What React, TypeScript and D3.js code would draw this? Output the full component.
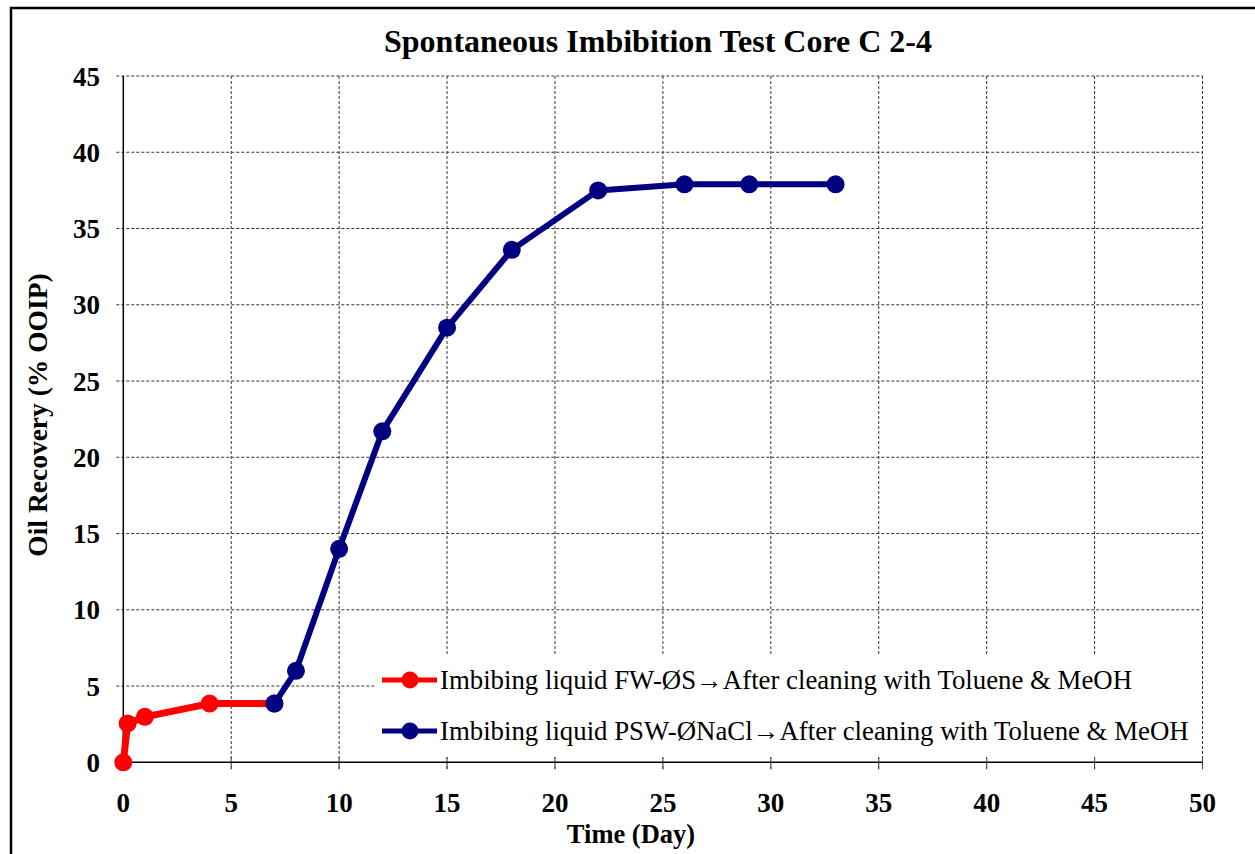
import React from "react";
import * as d3 from "d3";

const redX = [0, 0.2, 1, 4, 7];
const redY = [0, 2.55, 2.98, 3.85, 3.85];
const blueX = [7, 8, 10, 12, 15, 18, 22, 26, 29, 33];
const blueY = [3.85, 6.0, 14.0, 21.7, 28.5, 33.6, 37.5, 37.9, 37.9, 37.9];
const xTicks = [0, 5, 10, 15, 20, 25, 30, 35, 40, 45, 50];
const yTicks = [0, 5, 10, 15, 20, 25, 30, 35, 40, 45];
const seriesNames = [
  "Imbibing liquid FW-ØS→After cleaning with Toluene & MeOH",
  "Imbibing liquid PSW-ØNaCl→After cleaning with Toluene & MeOH",
];
const seriesColors = ["#ff0000", "#000080"];

export default function App() {
  const W = 1255, H = 854;
  const x = d3.scaleLinear().domain([0, 50]).range([123.3, 1202.5]);
  const y = d3.scaleLinear().domain([0, 45]).range([762.3, 76]);
  const line = d3.line<[number, number]>().x(d => x(d[0])).y(d => y(d[1]));
  const red: [number, number][] = redX.map((v, i) => [v, redY[i]]);
  const blue: [number, number][] = blueX.map((v, i) => [v, blueY[i]]);
  const font = "'Liberation Serif', 'Times New Roman', serif";
  const legendRows = [680, 731];
  return (
    <svg width={W} height={H} style={{ position: "absolute", left: 0, top: 0, background: "#fff" }}>
      <rect x={0} y={0} width={W} height={H} fill="#fff" />
      <rect x={11} y={8} width={1260} height={870} fill="none" stroke="#000" strokeWidth={2.5} />
      <text x={658} y={52} textAnchor="middle" fontFamily={font} fontWeight="bold" fontSize={32}>
        Spontaneous Imbibition Test Core C 2-4
      </text>
      {/* grid */}
      {yTicks.filter(t => t > 0).map(t => (
        <line key={"gy" + t} x1={x(0) - 7} x2={x(50)} y1={y(t)} y2={y(t)} stroke="#333" strokeWidth={1} strokeDasharray="3,2" />
      ))}
      {xTicks.filter(t => t > 0).map(t => (
        <line key={"gx" + t} x1={x(t)} x2={x(t)} y1={y(45)} y2={y(0) + 7} stroke="#333" strokeWidth={1} strokeDasharray="3,2" />
      ))}
      {/* legend background */}
      <rect x={376} y={655} width={826} height={102} fill="#fff" />
      {/* axes */}
      <line x1={x(0)} x2={x(0)} y1={y(45)} y2={y(0)} stroke="#000" strokeWidth={1.5} />
      <line x1={x(0) - 7} x2={x(50)} y1={y(0)} y2={y(0)} stroke="#000" strokeWidth={1.5} />
      <line x1={x(0)} x2={x(0)} y1={y(0)} y2={y(0) + 7} stroke="#000" strokeWidth={1.5} />
      {xTicks.filter(t => t > 0).map(t => (
        <line key={"tx" + t} x1={x(t)} x2={x(t)} y1={y(0) - 5} y2={y(0) + 7} stroke="#444" strokeWidth={1} />
      ))}
      {yTicks.map(t => (
        <text key={"ly" + t} x={100} y={y(t) + 9.5} textAnchor="end" fontFamily={font} fontWeight="bold" fontSize={27}>{t}</text>
      ))}
      {xTicks.map(t => (
        <text key={"lx" + t} x={x(t)} y={812} textAnchor="middle" fontFamily={font} fontWeight="bold" fontSize={27}>{t}</text>
      ))}
      <text x={631} y={843} textAnchor="middle" fontFamily={font} fontWeight="bold" fontSize={26.5}>Time (Day)</text>
      <text transform={`translate(47,415) rotate(-90)`} textAnchor="middle" fontFamily={font} fontWeight="bold" fontSize={27.5}>
        Oil Recovery (% OOIP)
      </text>
      {/* series */}
      <path d={line(red) || ""} fill="none" stroke={seriesColors[0]} strokeWidth={7} strokeLinejoin="round" />
      {red.map((d, i) => (
        <circle key={"r" + i} cx={x(d[0])} cy={y(d[1])} r={9} fill={seriesColors[0]} />
      ))}
      <path d={line(blue) || ""} fill="none" stroke={seriesColors[1]} strokeWidth={6} strokeLinejoin="round" />
      {blue.map((d, i) => (
        <circle key={"b" + i} cx={x(d[0])} cy={y(d[1])} r={9} fill={seriesColors[1]} />
      ))}
      {/* legend */}
      {seriesNames.map((n, i) => (
        <g key={"lg" + i}>
          <line x1={382} x2={437} y1={legendRows[i]} y2={legendRows[i]} stroke={seriesColors[i]} strokeWidth={5} />
          <circle cx={410} cy={legendRows[i]} r={8.5} fill={seriesColors[i]} />
          <text x={440} y={legendRows[i] + 9} fontFamily={font} fontSize={26.8}>{n}</text>
        </g>
      ))}
    </svg>
  );
}
